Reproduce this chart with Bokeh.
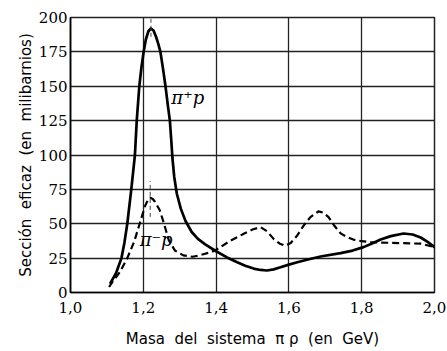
from bokeh.plotting import figure
from bokeh.models import FixedTicker, Label, Range1d
from bokeh.embed import file_html
from bokeh.resources import INLINE

# --- data ---
pi_plus_x = [1.110, 1.125, 1.140, 1.148, 1.156, 1.167, 1.177, 1.182, 1.189, 1.195,
             1.201, 1.207, 1.214, 1.221, 1.228, 1.235, 1.241, 1.247, 1.254, 1.261,
             1.267, 1.273, 1.277, 1.280, 1.285, 1.292, 1.303, 1.316, 1.333, 1.350,
             1.370, 1.400, 1.430, 1.458, 1.480, 1.503, 1.522, 1.540, 1.558, 1.577,
             1.600, 1.623, 1.655, 1.687, 1.742, 1.775, 1.805, 1.830, 1.852, 1.880,
             1.915, 1.940, 1.962, 1.980, 2.000]
pi_plus_y = [7, 14, 25, 36, 50, 75, 100, 125, 150, 164,
             175, 184, 190, 192, 190.5, 186, 181, 175, 163, 150,
             137, 125, 110, 98, 84, 72, 61, 52, 44, 39,
             35, 30, 25.5, 22, 19.5, 17.4, 16.4, 16, 16.8, 18.4,
             20.3, 22, 24.2, 26.2, 28.6, 30.5, 33, 35.8, 38.5, 41,
             42.9, 42.2, 40, 37, 33]

pi_minus_x = [1.106, 1.118, 1.136, 1.156, 1.175, 1.190, 1.205, 1.213, 1.219, 1.226,
              1.232, 1.245, 1.257, 1.270, 1.287, 1.310, 1.335, 1.354, 1.385, 1.400,
              1.440, 1.476, 1.500, 1.522, 1.540, 1.558, 1.575, 1.590, 1.605, 1.623,
              1.640, 1.659, 1.681, 1.695, 1.709, 1.725, 1.742, 1.760, 1.777, 1.800,
              1.824, 1.870, 1.915, 1.962, 2.000]
pi_minus_y = [4, 8.7, 15, 25, 37, 50, 63, 67.5, 69, 68,
              66, 60, 50, 38, 30.5, 27, 26, 27, 29.3, 31,
              37.8, 42.7, 45.8, 47.5, 44.5, 39, 35.5, 34, 36, 41.5,
              48.5, 54.8, 59, 58, 54.8, 48.5, 43, 40.2, 38.5, 37.3,
              36.6, 36.2, 35.9, 35.5, 33]

marker_x = [1.221, 1.219]
marker_y0 = [186, 55]
marker_y1 = [210, 81]

x_ticks = [1.0, 1.2, 1.4, 1.6, 1.8, 2.0]
x_tick_labels = ["1,0", "1,2", "1,4", "1,6", "1,8", "2,0"]
y_ticks = [0, 25, 50, 75, 100, 125, 150, 175, 200]

label_text = ["π⁺p", "π⁻p"]
label_x = [1.277, 1.190]
label_y = [134, 31]

SERIF = "'DejaVu Serif', serif"
SANS = "'DejaVu Sans', sans-serif"
NB = "\u00a0"

p = figure(width=447, height=351, output_backend="svg", toolbar_location=None,
           x_range=Range1d(1.0, 2.0), y_range=Range1d(0, 200),
           min_border_left=70, min_border_right=13, min_border_top=17,
           min_border_bottom=59)

p.background_fill_color = "white"
p.border_fill_color = "white"
p.outline_line_color = "#222222"
p.outline_line_width = 1.5

# grid
p.xgrid.ticker = FixedTicker(ticks=x_ticks)
p.ygrid.ticker = FixedTicker(ticks=y_ticks)
for g in (p.xgrid, p.ygrid):
    g.grid_line_color = "#222222"
    g.grid_line_width = 1.3
    g.grid_line_alpha = 1.0

# axes
p.xaxis.ticker = FixedTicker(ticks=x_ticks)
p.xaxis.major_label_overrides = {t: l for t, l in zip(x_ticks, x_tick_labels)}
p.yaxis.ticker = FixedTicker(ticks=y_ticks)
for ax in (p.xaxis[0], p.yaxis[0]):
    ax.axis_line_color = "black"
    ax.axis_line_width = 1.6
    ax.major_tick_line_color = None
    ax.minor_tick_line_color = None
    ax.major_tick_out = 0
    ax.major_tick_in = 0
    ax.major_label_text_font = SERIF
    ax.major_label_text_font_size = "15px"
    ax.major_label_text_color = "black"
    ax.axis_label_text_font = SANS
    ax.axis_label_text_font_size = "15px"
    ax.axis_label_text_font_style = "normal"
    ax.axis_label_text_color = "black"

p.xaxis.major_label_standoff = 9
p.xaxis.axis_label_standoff = 14
p.yaxis.major_label_standoff = 3
p.yaxis.axis_label_standoff = 1

p.xaxis.axis_label = f"Masa {NB}del {NB}sistema {NB}π ρ {NB}(en {NB}GeV)"
p.yaxis.axis_label = f"Sección {NB}eficaz {NB}(en {NB}milibarnios)"

# curves
p.line(pi_plus_x, pi_plus_y, line_color="black", line_width=2.7,
       line_join="round", line_cap="round")
p.line(pi_minus_x, pi_minus_y, line_color="black", line_width=2.2,
       line_dash="7 4", line_join="round")

# resonance markers
p.segment(x0=marker_x, y0=marker_y0, x1=marker_x, y1=marker_y1,
          line_color="#444444", line_width=1, line_dash="4 3")

for t, lx, ly in zip(label_text, label_x, label_y):
    p.add_layout(Label(x=lx, y=ly, text=t, text_font=SERIF,
                       text_font_style="italic", text_font_size="18px",
                       text_color="black"))

open("out.html", "w").write(file_html(p, INLINE))
